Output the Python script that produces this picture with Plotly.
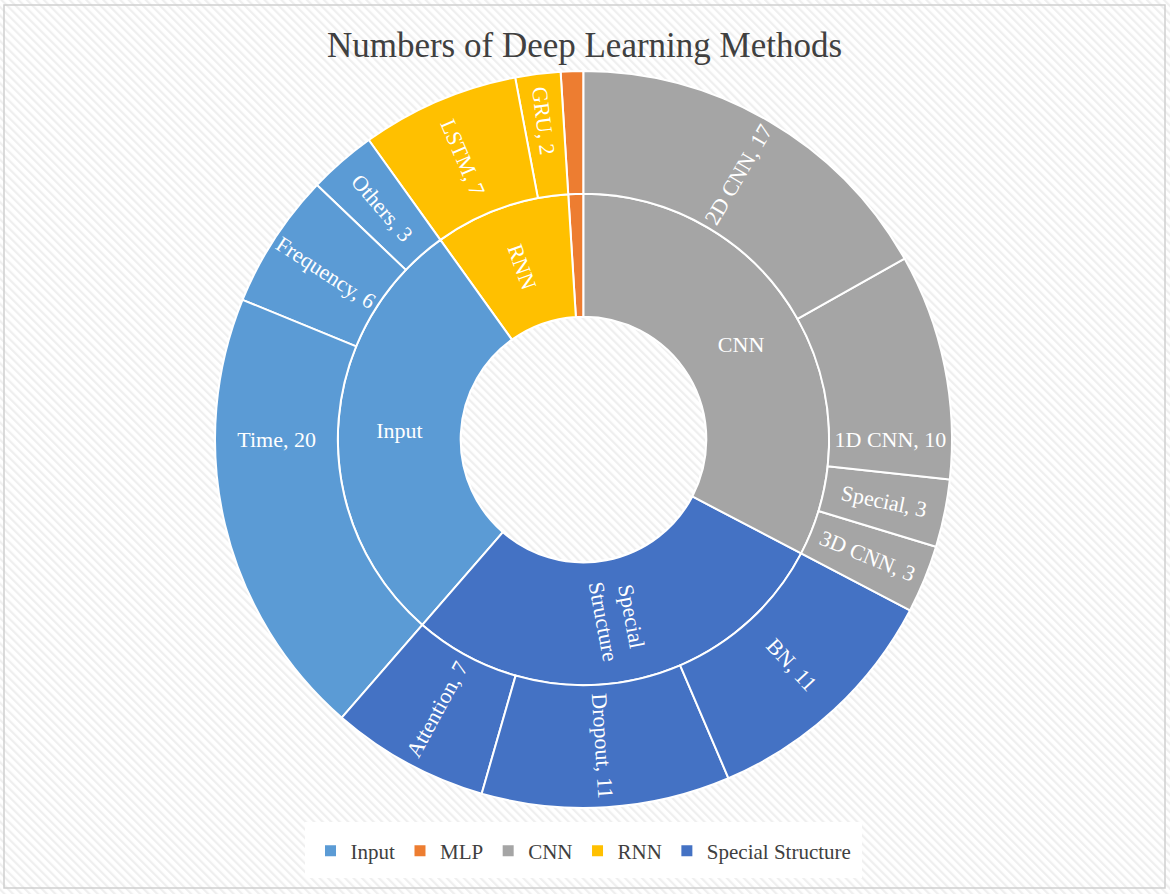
import base64
import plotly.graph_objects as go

# ---- data (clockwise order from 12 o'clock) ----
groups = ["CNN", "Special Structure", "Input", "RNN", "MLP"]
group_values = [33, 29, 29, 9, 1]
group_colors = ["#A5A5A5", "#4472C4", "#5B9BD5", "#FFC000", "#ED7D31"]
group_text = ["CNN", "Special<br>Structure", "Input", "RNN", ""]

leaf_parents = ["CNN", "CNN", "CNN", "CNN",
                "Special Structure", "Special Structure", "Special Structure",
                "Input", "Input", "Input",
                "RNN", "RNN",
                "MLP"]
leaf_labels = ["2D CNN", "1D CNN", "Special", "3D CNN",
               "BN", "Dropout", "Attention",
               "Time", "Frequency", "Others",
               "LSTM", "GRU",
               "MLP"]
leaf_values = [17, 10, 3, 3,
               11, 11, 7,
               20, 6, 3,
               7, 2,
               1]

legend_order = ["Input", "MLP", "CNN", "RNN", "Special Structure"]

FONT = "Palatino Linotype, Book Antiqua, Palatino, Liberation Serif, serif"

# ---- build hierarchy (plotly draws counter-clockwise, so reverse order) ----
color_of = dict(zip(groups, group_colors))
gi = list(range(len(groups)))[::-1]
li = list(range(len(leaf_labels)))[::-1]

ids = ["root"] + ["g_" + groups[i] for i in gi] + ["l_%d" % i for i in li]
labels = [""] + [groups[i] for i in gi] + [leaf_labels[i] for i in li]
parents = [""] + ["root"] * len(gi) + ["g_" + leaf_parents[i] for i in li]
values = [sum(group_values)] + [group_values[i] for i in gi] + [leaf_values[i] for i in li]
colors = ["rgba(0,0,0,0)"] + [group_colors[i] for i in gi] + [color_of[leaf_parents[i]] for i in li]

leaf_text = ["" if leaf_parents[i] == "MLP" else "%s, %d" % (leaf_labels[i], leaf_values[i])
             for i in li]
text_radial = [""] + [group_text[i] if groups[i] in ("RNN", "Special Structure") else ""
                      for i in gi] + leaf_text
text_horiz = [""] + [group_text[i] if groups[i] in ("CNN", "Input") else ""
                     for i in gi] + [""] * len(li)

W, H = 1170, 894
cx, cy, R = 583.5, 439.5, 368.5
domain = dict(x=[(cx - R) / W, (cx + R) / W], y=[1 - (cy + R) / H, 1 - (cy - R) / H])

common = dict(ids=ids, labels=labels, parents=parents, values=values,
              branchvalues="total", sort=False, rotation=90, domain=domain,
              textinfo="text", hoverinfo="skip", leaf=dict(opacity=1))

TS = 22
fig = go.Figure()
fig.add_trace(go.Sunburst(
    **common,
    text=text_radial,
    marker=dict(colors=colors, line=dict(color="white", width=2)),
    insidetextorientation="radial",
    textfont=dict(family=FONT, size=TS, color="white"),
))
fig.add_trace(go.Sunburst(
    **common,
    text=text_horiz,
    marker=dict(colors=["rgba(0,0,0,0)"] * len(ids), line=dict(width=0)),
    insidetextorientation="horizontal",
    textfont=dict(family=FONT, size=TS, color="white"),
))

# legend entries
for g in legend_order:
    fig.add_trace(go.Scatter(
        x=[None], y=[None], mode="markers", name=g,
        marker=dict(symbol="square", size=11, color=color_of[g]),
        showlegend=True, hoverinfo="skip"))

# hatch background
svg = f'''<svg xmlns="http://www.w3.org/2000/svg" width="{W}" height="{H}">
<defs><pattern id="p" width="6" height="6" patternUnits="userSpaceOnUse" patternTransform="rotate(-45)">
<rect width="6" height="6" fill="#ffffff"/><rect width="2.2" height="6" fill="#efefef"/></pattern></defs>
<rect width="{W}" height="{H}" fill="url(#p)"/></svg>'''
src = "data:image/svg+xml;base64," + base64.b64encode(svg.encode()).decode()

fig.update_layout(
    width=W, height=H,
    margin=dict(l=0, r=0, t=0, b=0),
    paper_bgcolor="white",
    images=[dict(source=src, xref="paper", yref="paper", x=0, y=1,
                 sizex=1, sizey=1, sizing="stretch", layer="below")],
    title=dict(text="Numbers of Deep Learning Methods",
               font=dict(family=FONT, size=35, color="#404040"),
               x=584.5 / W, xanchor="center", y=1 - 45 / H, yanchor="middle"),
    uniformtext=dict(minsize=TS, mode="show"),
    xaxis=dict(visible=False), yaxis=dict(visible=False),
    legend=dict(orientation="h", x=310.5 / W, xanchor="left", y=1 - 851 / H, yanchor="middle",
                bgcolor="rgba(0,0,0,0)", font=dict(family=FONT, size=21, color="#404040"),
                borderwidth=0),
    shapes=[dict(type="rect", xref="paper", yref="paper", layer="below",
                 x0=305 / W, x1=862 / W, y0=1 - 878 / H, y1=1 - 822 / H,
                 fillcolor="white", line=dict(width=0)),
            dict(type="rect", xref="paper", yref="paper",
                 x0=4 / W, x1=1165 / W, y0=1 - 888 / H, y1=1 - 5 / H,
                 line=dict(color="#d0d0d0", width=1.5))],
)

fig.write_html("out.html", config={"displayModeBar": False},
               post_script="document.body.style.margin='0';document.body.style.overflow='hidden';")
